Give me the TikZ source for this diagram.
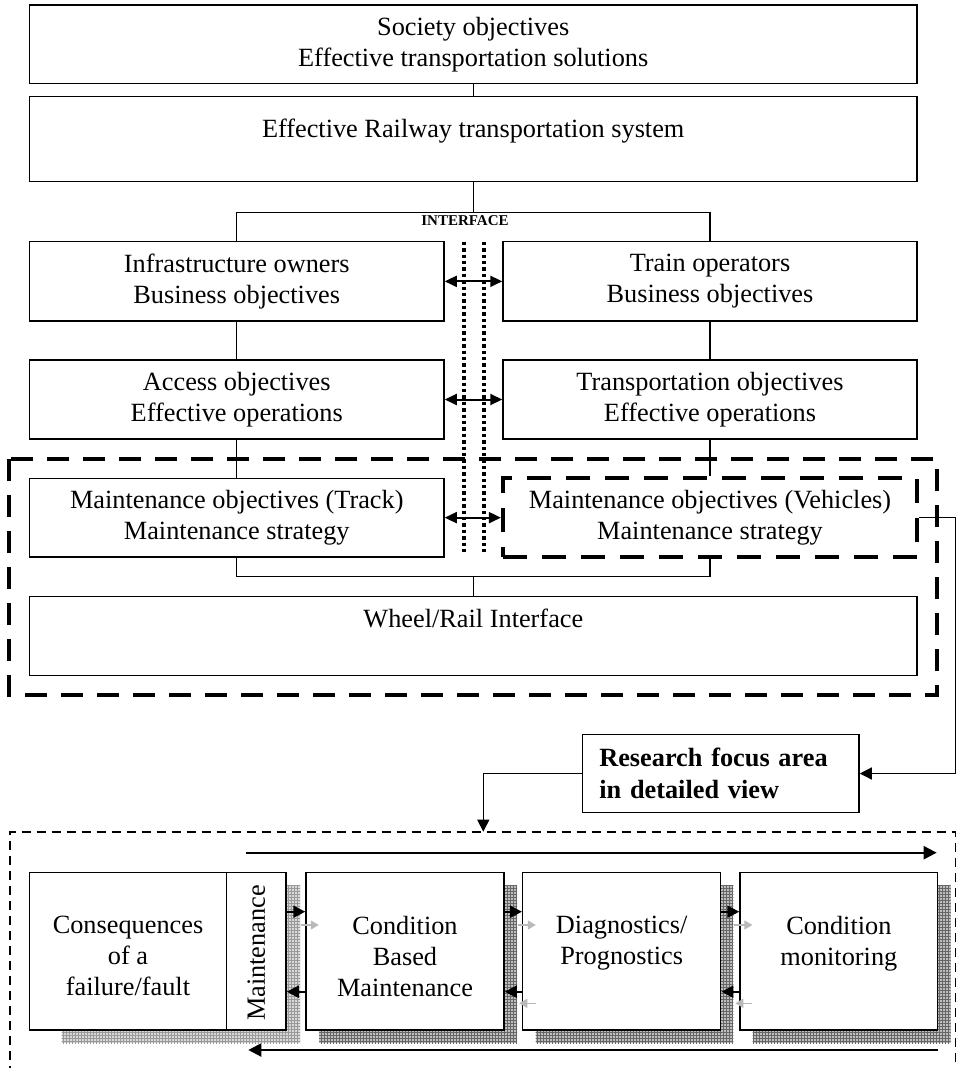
\documentclass[tikz,border=0pt]{standalone}
\usepackage{fontspec}
\setmainfont{Liberation Serif}
\usetikzlibrary{arrows.meta,patterns}
\begin{document}
\begin{tikzpicture}[x=1pt,y=-1pt,
  every node/.style={font=\fontsize{26.3}{31}\selectfont, inner sep=0pt},
  box/.style={draw, line width=1.5pt, fill=white, align=center},
  vbox/.style={draw, line width=4.2pt, dash pattern=on 24pt off 15pt, fill=white, align=center},
  link/.style={line width=1.3pt},
  biarrow/.style={line width=2pt, {Triangle[length=12pt,width=11pt]}-{Triangle[length=12pt,width=11pt]}},
  sarrow/.style={line width=2pt, -{Triangle[length=12pt,width=12pt]}},
  larrow/.style={line width=2.2pt, -{Triangle[length=13pt,width=13pt]}},
  farrow/.style={line width=1.3pt, -{Triangle[length=12pt,width=12pt]}},
  garrow/.style={line width=1.2pt, gray!55, -{Triangle[length=8pt,width=9pt]}},
  dotline/.style={line width=3.6pt, dash pattern=on 3.4pt off 3pt},
  thickdash/.style={line width=4pt, dash pattern=on 22pt off 14pt},
  thindash/.style={line width=1.6pt, dash pattern=on 9pt off 6pt},
  shadelight/.style={fill=gray!30, postaction={pattern=grid, pattern color=black!40}},
  shadedark/.style={fill=gray!50, postaction={pattern=grid, pattern color=black!60}}]

\useasboundingbox (0,0) rectangle (957,1068);

% --- system level ---------------------------------------------------------
\node[box, minimum width=887.7pt, minimum height=78.3pt] (soc) at (473.2,44.2)
  {Society objectives\\Effective transportation solutions};
\node[box, minimum width=887.7pt, minimum height=85pt] (rail) at (473.2,139.2) {};
\node[anchor=base] (railT) at (473.2,137.8) {Effective Railway transportation system};
\draw[link] (soc) -- (rail);

\coordinate (ifc) at (473.2,212.7);
\draw[link] (rail) -- (ifc);
\node[font=\fontsize{15}{18}\selectfont\bfseries] (iface) at (465,221) {INTERFACE};

% --- two stakeholder columns --------------------------------------------
\node[box, minimum width=414.5pt, minimum height=79.3pt] (infra) at (236.75,281.35)
  {Infrastructure owners\\Business objectives};
\node[box, minimum width=414pt, minimum height=79.3pt] (train) at (710,281.35)
  {Train operators\\Business objectives};
\draw[link] (infra.north) |- (ifc) -| (train.north);

\node[box, minimum width=414.5pt, minimum height=79pt] (access) at (236.75,399.5)
  {Access objectives\\Effective operations};
\node[box, minimum width=414pt, minimum height=79pt] (transp) at (710,399.5)
  {Transportation objectives\\Effective operations};
\draw[link] (infra) -- (access);
\draw[link] (train) -- (transp);

% maintenance focus frame
\draw[thickdash] (9.3,459) rectangle (937.3,695);

\node[box, minimum width=414.5pt, minimum height=78.7pt] (track) at (236.75,517.65)
  {Maintenance objectives (Track)\\Maintenance strategy};
\node[vbox, minimum width=414pt, minimum height=78.4pt] (veh) at (710,517.5)
  {Maintenance objectives (Vehicles)\\Maintenance strategy};
\draw[link] (access) -- (track);
\draw[link] (transp) -- (veh);

\node[box, minimum width=887.3pt, minimum height=78.6pt] (wr) at (473.35,636) {};
\node[anchor=base] (wrT) at (473.35,627.8) {Wheel/Rail Interface};
\coordinate (wrj) at (473.35,576.7);
\draw[link] (track.south) |- (wrj) -| (veh.south);
\draw[link] (wrj) -- (wr);

% interface between the columns
\draw[dotline] (464,241.7) -- (464,551.7);
\draw[dotline] (484,241.7) -- (484,551.7);
\draw[biarrow] (infra.east) -- (infra.east -| train.west);
\draw[biarrow] (access.east) -- (access.east -| transp.west);
\draw[biarrow] (track.east) -- (track.east -| veh.west);

% --- research focus --------------------------------------------------------
\node[box, align=left, font=\fontsize{26.3}{31.7}\selectfont\bfseries,
  text width=242.7pt, inner xsep=17pt, minimum height=78.4pt] (focus) at (720.65,773.5)
  {Research focus area\\in detailed view};
\coordinate (rc) at (955.5,517.5);
\draw[farrow] (veh.east) -- (rc) |- (focus.east);
\coordinate (dtop) at (483.3,831.7);
\draw[farrow] (focus.west) -| (dtop);

% detailed view frame
\draw[thindash] (10,1075) -- (10,831.7) -- (955.5,831.7) -- (955.5,1075);

\coordinate (fa) at (246,852.7);
\coordinate (fb) at (936.7,852.7);
\draw[larrow] (fa) -- (fb);
\coordinate (ba) at (938,1050);
\coordinate (bb) at (248.3,1050);
\draw[larrow] (ba) -- (bb);

% shadows
\fill[shadelight] (61.7,885) rectangle (300,1043);
\fill[shadedark] (319,885) rectangle (517,1043);
\fill[shadedark] (535.7,885) rectangle (733.3,1043);
\fill[shadedark] (752.7,885) rectangle (950.7,1043);

% process chain
\node[box, minimum width=197.4pt, minimum height=157.3pt] (cons) at (128,951.35) {};
\node[box, minimum width=59.3pt, minimum height=157.3pt] (mstrip) at (256.35,951.35) {};
\node[box, minimum width=198pt, minimum height=157.3pt] (cbm) at (405,951.35) {};
\node[box, minimum width=198pt, minimum height=157.3pt] (diag) at (621.7,951.35) {};
\node[box, minimum width=197.7pt, minimum height=157.3pt] (cm) at (838.85,951.35) {};

\node[anchor=north, align=center] (consT) at (128,916) {Consequences\\of a\\failure/fault};
\node[rotate=90] (mT) at (256.35,953) {Maintenance};
\node[anchor=north, align=center] (cbmT) at (405,916) {Condition\\Based\\Maintenance};
\node[anchor=north, align=center] (diagT) at (621.7,916) {Diagnostics/\\Prognostics};
\node[anchor=north, align=center] (cmT) at (838.85,916) {Condition\\monitoring};

\coordinate (fy) at (0,911.7);
\coordinate (by) at (0,991.7);
\coordinate (gy) at (0,925);
\coordinate (gby) at (0,1003.3);

\draw[sarrow] (mstrip.east |- fy) -- (cbm.west |- fy);
\draw[sarrow] (cbm.east |- fy) -- (diag.west |- fy);
\draw[sarrow] (diag.east |- fy) -- (cm.west |- fy);
\draw[sarrow] (cbm.west |- by) -- (mstrip.east |- by);
\draw[sarrow] (diag.west |- by) -- (cbm.east |- by);
\draw[sarrow] (cm.west |- by) -- (diag.east |- by);

\draw[garrow] ([xshift=14pt]mstrip.east |- gy) -- ++(18,0);
\draw[garrow] ([xshift=13pt]cbm.east |- gy) -- ++(18,0);
\draw[garrow] ([xshift=13pt]diag.east |- gy) -- ++(18,0);
\draw[garrow] ([xshift=14.3pt]diag.west |- gby) -- ++(-17,0);
\draw[garrow] ([xshift=13pt]cm.west |- gby) -- ++(-17,0);

\end{tikzpicture}
\end{document}
